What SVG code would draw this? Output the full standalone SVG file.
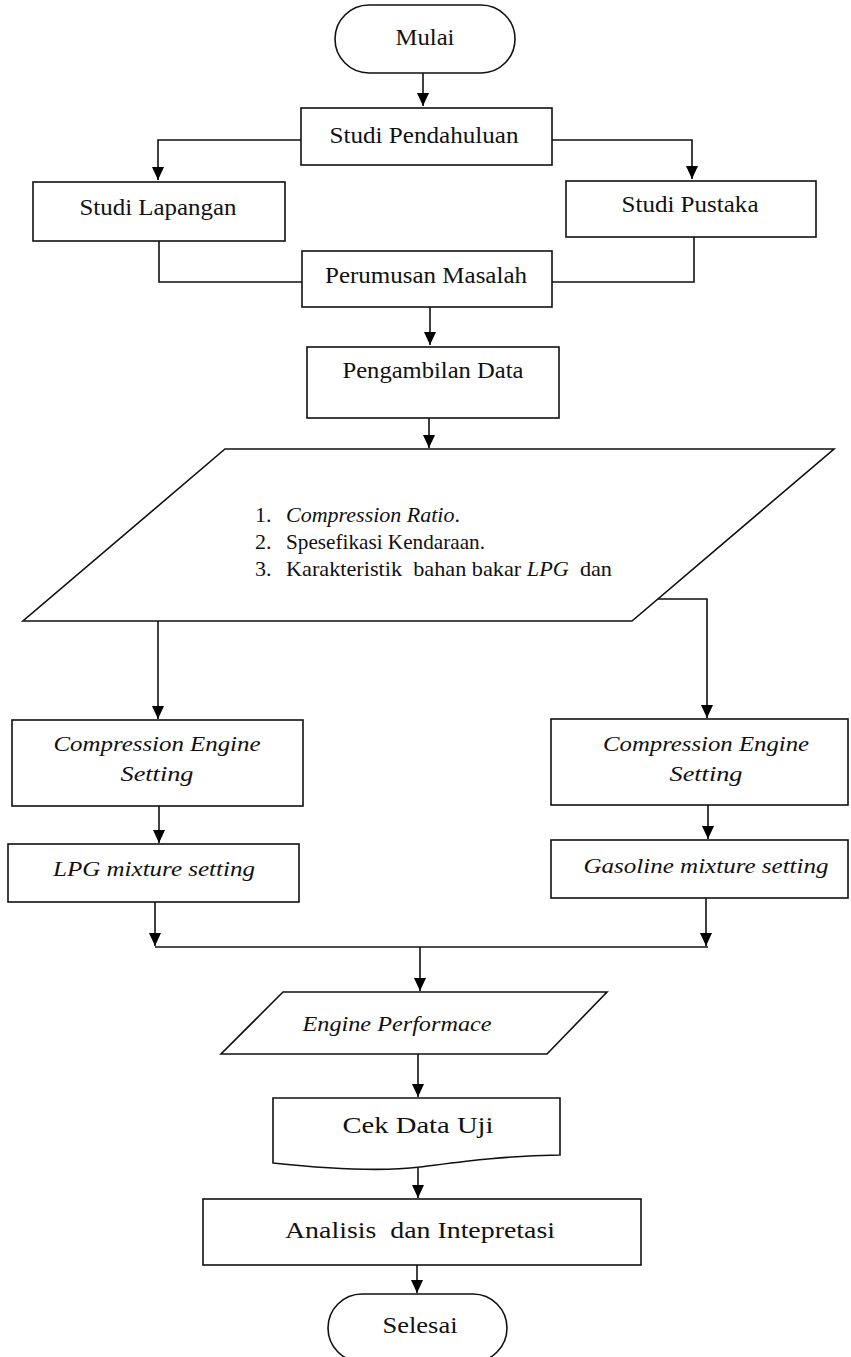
<svg xmlns="http://www.w3.org/2000/svg" width="851" height="1357" viewBox="0 0 851 1357">
<defs>
<marker id="arr" markerUnits="userSpaceOnUse" markerWidth="14" markerHeight="14" viewBox="0 0 14 14" refX="13" refY="7" orient="auto">
<path d="M0,1 L13,7 L0,13 Z" fill="#000"/>
</marker>
<style>
.s{fill:#fff;stroke:#111;stroke-width:1.6}
.c{fill:none;stroke:#111;stroke-width:1.6}
.t{font-family:"Liberation Serif",serif;font-size:23px;fill:#111;text-anchor:middle}
.i{font-family:"Liberation Serif",serif;font-style:italic;font-size:22px;fill:#111;text-anchor:middle}
.l{font-family:"Liberation Serif",serif;font-size:22px;fill:#111}
</style>
</defs>
<rect width="851" height="1357" fill="#fff"/>
<g id="connectors">
<path class="c" d="M423,73 V106" marker-end="url(#arr)"/>
<path class="c" d="M301,140 H158 V180" marker-end="url(#arr)"/>
<path class="c" d="M552,140 H692 V179" marker-end="url(#arr)"/>
<path class="c" d="M159,241 V282 H302"/>
<path class="c" d="M694,237 V282 H552"/>
<path class="c" d="M430,307 V345" marker-end="url(#arr)"/>
<path class="c" d="M429,418 V448" marker-end="url(#arr)"/>
<path class="c" d="M158,621 V719" marker-end="url(#arr)"/>
<path class="c" d="M658,599 H707 V718" marker-end="url(#arr)"/>
<path class="c" d="M159,806 V843" marker-end="url(#arr)"/>
<path class="c" d="M708,805 V839" marker-end="url(#arr)"/>
<path class="c" d="M155,902 V946" marker-end="url(#arr)"/>
<path class="c" d="M706,898 V946" marker-end="url(#arr)"/>
<path class="c" d="M155,947 H708"/>
<path class="c" d="M420,947 V991" marker-end="url(#arr)"/>
<path class="c" d="M418,1054 V1097" marker-end="url(#arr)"/>
<path class="c" d="M418,1168 V1198" marker-end="url(#arr)"/>
<path class="c" d="M417,1265 V1293" marker-end="url(#arr)"/>
</g>
<g id="mulai">
<rect class="s" x="335" y="5" width="180" height="68" rx="34"/>
<text class="t" x="425" y="45" font-size="24" textLength="59" lengthAdjust="spacingAndGlyphs">Mulai</text>
</g>
<g id="studi-pendahuluan">
<rect class="s" x="301" y="108" width="251" height="57"/>
<text class="t" x="424" y="143" textLength="189" lengthAdjust="spacingAndGlyphs">Studi Pendahuluan</text>
</g>
<g id="studi-lapangan">
<rect class="s" x="33" y="182" width="252" height="59"/>
<text class="t" x="158" y="215" textLength="157" lengthAdjust="spacingAndGlyphs">Studi Lapangan</text>
</g>
<g id="studi-pustaka">
<rect class="s" x="566" y="181" width="250" height="56"/>
<text class="t" x="690" y="212" textLength="137" lengthAdjust="spacingAndGlyphs">Studi Pustaka</text>
</g>
<g id="perumusan-masalah">
<rect class="s" x="302" y="251" width="250" height="56"/>
<text class="t" x="426" y="283" textLength="202" lengthAdjust="spacingAndGlyphs">Perumusan Masalah</text>
</g>
<g id="pengambilan-data">
<rect class="s" x="307" y="347" width="252" height="71"/>
<text class="t" x="433" y="378" textLength="181" lengthAdjust="spacingAndGlyphs">Pengambilan Data</text>
</g>
<g id="data-input">
<polygon class="s" points="225,449 834,449 632,621 23,621"/>
<text class="l" x="255" y="522">1.</text>
<text class="l" x="286" y="522" font-size="21"><tspan font-style="italic">Compression Ratio</tspan>.</text>
<text class="l" x="255" y="549">2.</text>
<text class="l" x="286" y="549" textLength="199" lengthAdjust="spacingAndGlyphs">Spesefikasi Kendaraan.</text>
<text class="l" x="255" y="576">3.</text>
<text class="l" x="286" y="576" xml:space="preserve" textLength="326" lengthAdjust="spacingAndGlyphs">Karakteristik  bahan bakar <tspan font-style="italic">LPG</tspan>  dan</text>
</g>
<g id="ces-left">
<rect class="s" x="12" y="720" width="291" height="86"/>
<text class="i" x="157" y="751" textLength="207" lengthAdjust="spacingAndGlyphs">Compression Engine</text>
<text class="i" x="157" y="781" textLength="73" lengthAdjust="spacingAndGlyphs">Setting</text>
</g>
<g id="ces-right">
<rect class="s" x="551" y="719" width="297" height="86"/>
<text class="i" x="706" y="751" textLength="206" lengthAdjust="spacingAndGlyphs">Compression Engine</text>
<text class="i" x="706" y="781" textLength="73" lengthAdjust="spacingAndGlyphs">Setting</text>
</g>
<g id="lpg-mixture">
<rect class="s" x="8" y="844" width="291" height="58"/>
<text class="i" x="154" y="876" textLength="202" lengthAdjust="spacingAndGlyphs">LPG mixture setting</text>
</g>
<g id="gasoline-mixture">
<rect class="s" x="551" y="840" width="297" height="58"/>
<text class="i" x="706" y="873" textLength="245" lengthAdjust="spacingAndGlyphs">Gasoline mixture setting</text>
</g>
<g id="engine-performace">
<polygon class="s" points="283,992 607,992 547,1054 221,1054"/>
<text class="i" x="397" y="1031" textLength="189" lengthAdjust="spacingAndGlyphs">Engine Performace</text>
</g>
<g id="cek-data-uji">
<path class="s" d="M273,1098 H560 V1155 C500,1156 460,1162 420,1167 C380,1172 320,1168 273,1163 Z"/>
<text class="t" x="418" y="1133" font-size="27" textLength="151" lengthAdjust="spacingAndGlyphs">Cek Data Uji</text>
</g>
<g id="analisis">
<rect class="s" x="203" y="1199" width="438" height="66"/>
<text class="t" x="420" y="1238" font-size="27" xml:space="preserve" textLength="270" lengthAdjust="spacingAndGlyphs">Analisis  dan Intepretasi</text>
</g>
<g id="selesai">
<rect class="s" x="328" y="1294" width="179" height="68" rx="34"/>
<text class="t" x="420" y="1333" font-size="24" textLength="75" lengthAdjust="spacingAndGlyphs">Selesai</text>
</g>
</svg>
